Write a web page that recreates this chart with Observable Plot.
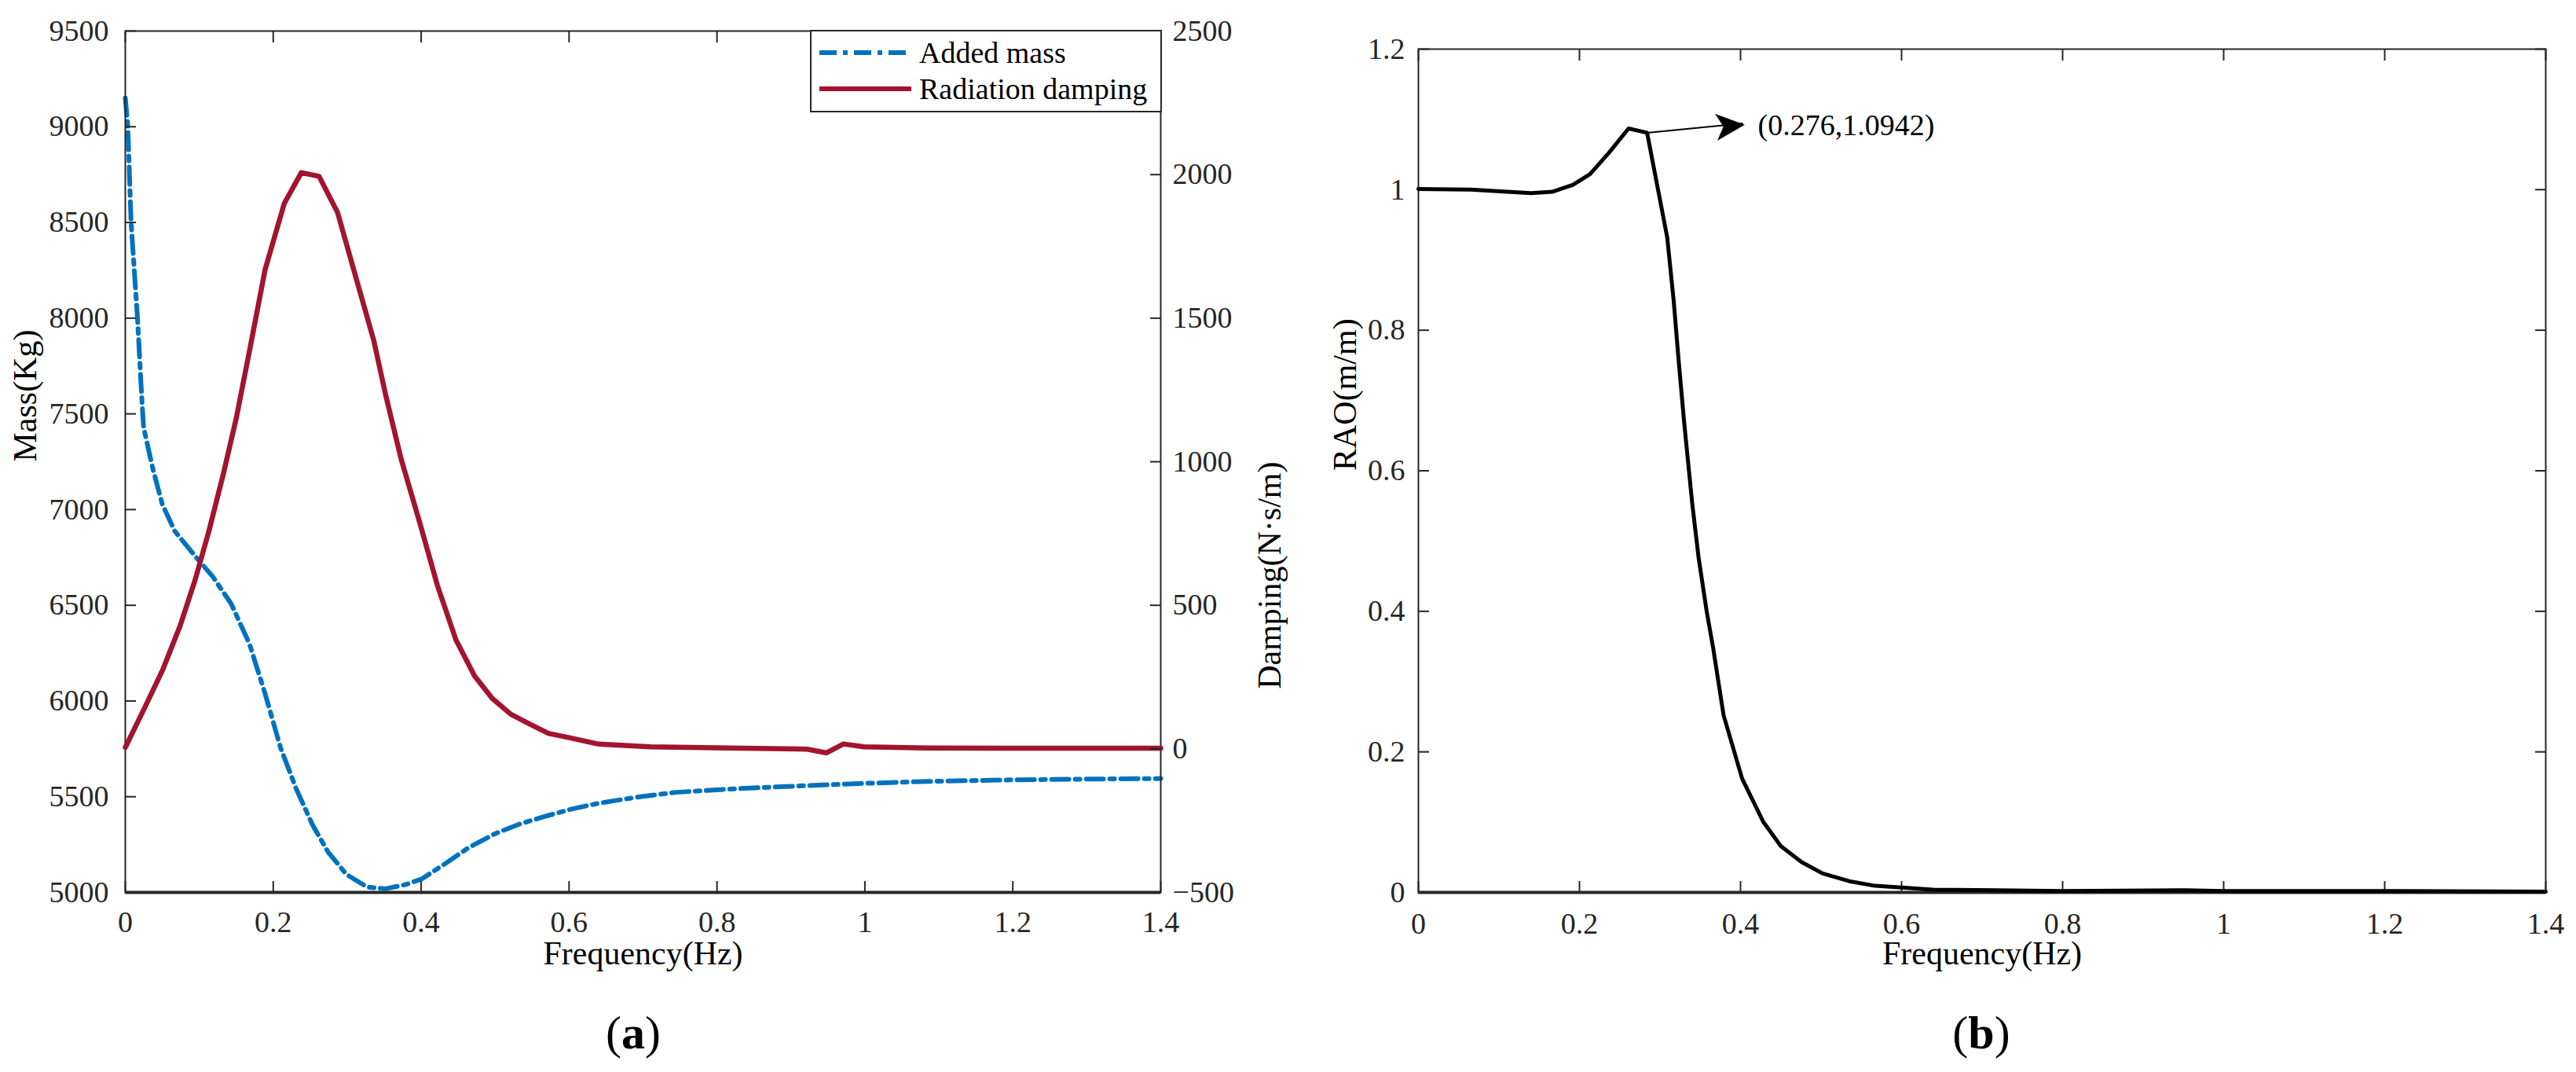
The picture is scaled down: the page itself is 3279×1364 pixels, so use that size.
<!DOCTYPE html>
<html><head><meta charset="utf-8">
<script src="https://cdn.jsdelivr.net/npm/d3@7"></script>
<script src="https://cdn.jsdelivr.net/npm/@observablehq/plot@0.6"></script>
<style>
body{margin:0;background:#fff;}
#root{position:relative;width:3279px;height:1364px;overflow:hidden;font-family:"Liberation Serif",serif;background:#fff;}
.layer{position:absolute;top:0;}
.layer svg{overflow:visible;}
.cap{position:absolute;font-size:60px;transform:translate(-50%,-50%);color:#000;font-family:"Liberation Serif",serif;white-space:nowrap;}
#legend{position:absolute;left:1031px;top:38px;}
</style></head>
<body><div id="root"></div>
<script>
// ---------- data ----------
const freqMass = [0, 0.0034, 0.0078, 0.0165, 0.0219, 0.0247, 0.037, 0.05, 0.067, 0.097, 0.118, 0.143, 0.168, 0.189, 0.21, 0.231, 0.253, 0.274, 0.299, 0.327, 0.352, 0.38, 0.401, 0.429, 0.465, 0.5, 0.535, 0.568, 0.604, 0.639, 0.692, 0.745, 0.816, 0.886, 0.992, 1.084, 1.2, 1.3, 1.4];
const addedMass = [9150, 9000, 8500, 8000, 7608, 7430, 7217, 7028, 6887, 6745, 6651, 6509, 6297, 6038, 5755, 5542, 5354, 5212, 5094, 5028, 5019, 5042, 5071, 5141, 5236, 5307, 5360, 5398, 5436, 5465, 5498, 5523, 5540, 5552, 5569, 5580, 5588, 5592, 5595];

const freqDamp = [0, 0.0265, 0.051, 0.074, 0.094, 0.113, 0.133, 0.15, 0.168, 0.189, 0.215, 0.238, 0.262, 0.287, 0.311, 0.336, 0.352, 0.373, 0.398, 0.422, 0.447, 0.472, 0.496, 0.521, 0.547, 0.572, 0.604, 0.639, 0.71, 0.816, 0.922, 0.948, 0.971, 0.999, 1.084, 1.2, 1.4];
const radDamping = [5, 145, 278, 428, 585, 758, 962, 1151, 1387, 1669, 1900, 2007, 1994, 1868, 1649, 1422, 1233, 1009, 789, 569, 380, 255, 176, 121, 86, 54, 37, 17, 7, 3, -1, -14, 17, 7, 3, 2, 2];

const freqRAO = [0, 0.065, 0.14, 0.166, 0.192, 0.213, 0.237, 0.261, 0.284, 0.309, 0.317, 0.323, 0.33, 0.34, 0.348, 0.358, 0.366, 0.379, 0.402, 0.428, 0.45, 0.476, 0.502, 0.535, 0.567, 0.6, 0.639, 0.8, 0.95, 1.0, 1.2, 1.4];
const rao = [1.001, 1.0, 0.995, 0.997, 1.007, 1.022, 1.053, 1.087, 1.081, 0.932, 0.842, 0.759, 0.669, 0.554, 0.476, 0.4, 0.348, 0.252, 0.162, 0.101, 0.066, 0.043, 0.027, 0.016, 0.0094, 0.007, 0.004, 0.002, 0.003, 0.002, 0.002, 0.001];

const freqTicks = [0, 0.2, 0.4, 0.6, 0.8, 1, 1.2, 1.4];
const massTicks = [5000, 5500, 6000, 6500, 7000, 7500, 8000, 8500, 9000, 9500];
const dampTicks = [-500, 0, 500, 1000, 1500, 2000, 2500];
const raoTicks = [0, 0.2, 0.4, 0.6, 0.8, 1, 1.2];

const seriesNames = ["Added mass", "Radiation damping"];
const seriesColors = ["#0072BD", "#A2142F"];
const annoText = "(0.276,1.0942)";
const annoFrom = [0.284, 1.081];   // point on the curve
const annoTo = [0.403, 1.0942];    // where the label sits

// ---------- tables ----------
const massRows = freqMass.map((f, i) => ({f, v: addedMass[i]}));
const dampRows = freqDamp.map((f, i) => ({f, v: radDamping[i]}));
const raoRows = freqRAO.map((f, i) => ({f, v: rao[i]}));

const AX = "#262626";
const FS = 38, LFS = 42;
const DASH = "22,8,6,8";
const style = {fontFamily: "Liberation Serif", background: "transparent", overflow: "visible", color: AX};
const noText = () => "";
const num = d => String(d);

const left = {width: 1640, height: 1300, marginLeft: 159, marginRight: 163, marginTop: 39, marginBottom: 165, style};
const xDom = {domain: [freqTicks[0], freqTicks[freqTicks.length - 1]], axis: null};

const massPlot = Plot.plot({
  ...left,
  x: xDom,
  y: {domain: [massTicks[0], massTicks[massTicks.length - 1]], axis: null},
  marks: [
    Plot.line(massRows, {x: "f", y: "v", stroke: seriesColors[0], strokeWidth: 6, strokeDasharray: DASH}),
    Plot.frame({stroke: AX, strokeWidth: 2}),
    Plot.axisX(freqTicks, {anchor: "bottom", tickSize: 14, dy: -14, tickFormat: noText, label: null, strokeWidth: 2}),
    Plot.axisX(freqTicks, {anchor: "top", tickSize: 14, dy: 14, tickFormat: noText, label: null, strokeWidth: 2}),
    Plot.axisX(freqTicks, {anchor: "bottom", tickSize: 0, tickPadding: 24, tickFormat: num, fontSize: FS, label: null}),
    Plot.axisY(massTicks, {anchor: "left", tickSize: 14, dx: 14, tickFormat: noText, label: null, strokeWidth: 2}),
    Plot.axisY(massTicks, {anchor: "left", tickSize: 0, tickPadding: 21, tickFormat: d3.format("d"), fontSize: FS, label: null}),
    Plot.ruleY([massTicks[0]], {stroke: AX, strokeWidth: 4}),
    Plot.text(["Mass(Kg)"], {text: d => d, frameAnchor: "left", dx: -127, rotate: -90, fontSize: LFS, fill: "#000"}),
    Plot.text(["Frequency(Hz)"], {text: d => d, frameAnchor: "bottom", dy: 91, fontSize: LFS, fill: "#000"})
  ]
});

const dampPlot = Plot.plot({
  ...left,
  x: xDom,
  y: {domain: [dampTicks[0], dampTicks[dampTicks.length - 1]], axis: null},
  marks: [
    Plot.line(dampRows, {x: "f", y: "v", stroke: seriesColors[1], strokeWidth: 6.5}),
    Plot.axisY(dampTicks, {anchor: "right", tickSize: 14, dx: -14, tickFormat: noText, label: null, strokeWidth: 2}),
    Plot.axisY(dampTicks, {anchor: "right", tickSize: 0, tickPadding: 15, tickFormat: d3.format("d"), fontSize: FS, label: null}),
    Plot.text(["Damping(N\u00b7s/m)"], {text: d => d, frameAnchor: "right", dx: 139, rotate: -90, fontSize: LFS, fill: "#000"})
  ]
});

const raoPlot = Plot.plot({
  width: 1639, height: 1300, marginLeft: 165, marginRight: 39, marginTop: 62, marginBottom: 165, style,
  x: xDom,
  y: {domain: [raoTicks[0], raoTicks[raoTicks.length - 1]], axis: null},
  marks: [
    Plot.frame({stroke: AX, strokeWidth: 2}),
    Plot.axisX(freqTicks, {anchor: "bottom", tickSize: 14, dy: -14, tickFormat: noText, label: null, strokeWidth: 2}),
    Plot.axisX(freqTicks, {anchor: "top", tickSize: 14, dy: 14, tickFormat: noText, label: null, strokeWidth: 2}),
    Plot.axisX(freqTicks, {anchor: "bottom", tickSize: 0, tickPadding: 26, tickFormat: num, fontSize: FS, label: null}),
    Plot.axisY(raoTicks, {anchor: "left", tickSize: 14, dx: 14, tickFormat: noText, label: null, strokeWidth: 2}),
    Plot.axisY(raoTicks, {anchor: "right", tickSize: 14, dx: -14, tickFormat: noText, label: null, strokeWidth: 2}),
    Plot.axisY(raoTicks, {anchor: "left", tickSize: 0, tickPadding: 17, tickFormat: num, fontSize: FS, label: null}),
    Plot.ruleY([raoTicks[0]], {stroke: AX, strokeWidth: 4}),
    Plot.line(raoRows, {x: "f", y: "v", stroke: "#000", strokeWidth: 5}),
    Plot.link([0], {x1: () => annoFrom[0], y1: () => annoFrom[1], x2: () => annoTo[0], y2: () => annoTo[1], stroke: "#000", strokeWidth: 2}),
    Plot.text([annoTo], {x: d => d[0], y: d => d[1], text: () => "\u27a4", textAnchor: "end", dx: 5, dy: 1, rotate: -5, fontSize: 54, fontFamily: "DejaVu Sans", fill: "#000"}),
    Plot.text([annoTo], {x: d => d[0], y: d => d[1], text: () => annoText, textAnchor: "start", dx: 19, dy: 3, fontSize: FS, fill: "#000"}),
    Plot.text(["RAO(m/m)"], {text: d => d, frameAnchor: "left", dx: -93, rotate: -90, fontSize: LFS, fill: "#000"}),
    Plot.text(["Frequency(Hz)"], {text: d => d, frameAnchor: "bottom", dy: 91, fontSize: LFS, fill: "#000"})
  ]
});

const root = document.getElementById("root");
function addLayer(node, x) {
  const d = document.createElement("div");
  d.className = "layer";
  d.style.left = x + "px";
  d.appendChild(node);
  root.appendChild(d);
}
addLayer(massPlot, 0);
addLayer(dampPlot, 0);
addLayer(raoPlot, 1640);

// legend
const ns = "http://www.w3.org/2000/svg";
const lg = document.createElementNS(ns, "svg");
lg.setAttribute("id", "legend");
lg.setAttribute("width", 449);
lg.setAttribute("height", 105);
lg.style.position = "absolute";
lg.style.left = "1031px";
lg.style.top = "38px";
const rect = document.createElementNS(ns, "rect");
Object.entries({x: 1, y: 1, width: 446, height: 103, fill: "#fff", stroke: AX, "stroke-width": 2}).forEach(([k, v]) => rect.setAttribute(k, v));
lg.appendChild(rect);
seriesNames.forEach((name, i) => {
  const cy = 29 + i * 46;
  const ln = document.createElementNS(ns, "line");
  Object.entries({x1: 12, x2: 129, y1: cy, y2: cy, stroke: seriesColors[i], "stroke-width": 6}).forEach(([k, v]) => ln.setAttribute(k, v));
  if (i === 0) ln.setAttribute("stroke-dasharray", DASH);
  lg.appendChild(ln);
  const t = document.createElementNS(ns, "text");
  Object.entries({x: 139, y: cy, "dominant-baseline": "central", "font-size": FS, "font-family": "Liberation Serif", fill: "#000"}).forEach(([k, v]) => t.setAttribute(k, v));
  t.textContent = name;
  lg.appendChild(t);
});
root.appendChild(lg);

// captions
[["a", 806], ["b", 2522]].forEach(([c, x]) => {
  const d = document.createElement("div");
  d.className = "cap";
  d.style.left = x + "px";
  d.style.top = "1314px";
  d.innerHTML = "(<b>" + c + "</b>)";
  root.appendChild(d);
});
</script>
</body></html>
